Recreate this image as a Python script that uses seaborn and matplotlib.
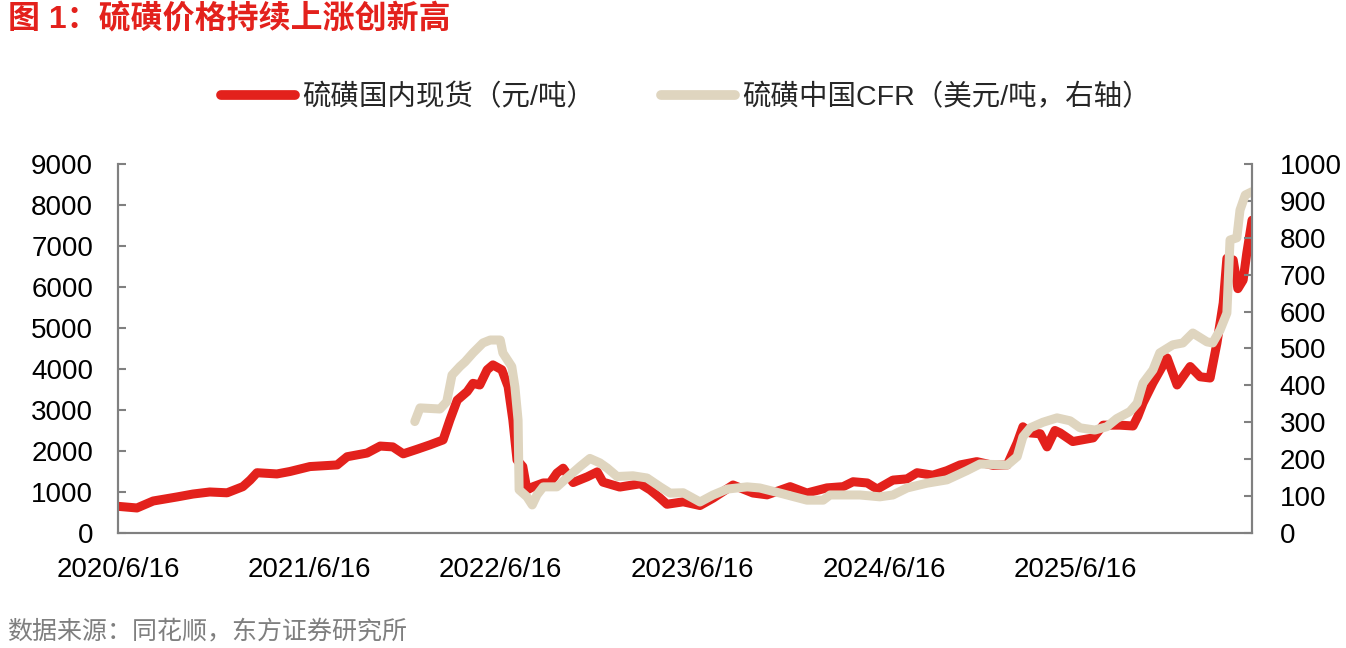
import pandas as pd
import matplotlib
matplotlib.use('Agg')
import matplotlib.pyplot as plt
from matplotlib.lines import Line2D
import seaborn as sns

# domestic spot price (CNY/t), left axis
spot_dates = [
    '2020-06-16', '2020-07-22', '2020-08-22', '2020-10-07', '2020-11-06', '2020-12-08',
    '2021-01-10', '2021-02-09', '2021-02-23', '2021-03-08', '2021-04-15', '2021-05-10',
    '2021-06-17', '2021-08-08', '2021-08-27', '2021-10-04', '2021-10-29', '2021-11-22',
    '2021-12-12', '2022-01-07', '2022-02-01', '2022-02-26', '2022-03-11', '2022-03-25',
    '2022-04-13', '2022-04-24', '2022-05-07', '2022-05-21', '2022-06-01', '2022-06-18',
    '2022-06-30', '2022-07-09', '2022-07-17', '2022-07-28', '2022-08-05', '2022-08-17',
    '2022-09-05', '2022-09-18', '2022-10-01', '2022-10-13', '2022-11-01', '2022-11-28',
    '2022-12-17', '2022-12-28', '2023-01-29', '2023-03-09', '2023-03-28', '2023-04-16',
    '2023-04-29', '2023-05-30', '2023-07-01', '2023-07-26', '2023-09-02', '2023-10-10',
    '2023-11-06', '2023-12-20', '2024-01-21', '2024-02-28', '2024-03-30', '2024-04-18',
    '2024-05-15', '2024-06-03', '2024-07-03', '2024-07-30', '2024-08-18', '2024-09-17',
    '2024-10-14', '2024-11-08', '2024-12-10', '2025-01-10', '2025-02-06', '2025-02-25',
    '2025-03-08', '2025-03-22', '2025-04-10', '2025-04-23', '2025-05-08', '2025-05-18',
    '2025-06-11', '2025-07-20', '2025-08-08', '2025-09-09', '2025-10-04', '2025-10-13',
    '2025-10-23', '2025-11-11', '2025-12-08', '2025-12-27', '2026-01-21', '2026-02-09',
    '2026-02-28', '2026-03-13', '2026-03-25', '2026-04-01', '2026-04-13', '2026-04-22',
    '2026-05-02', '2026-05-09', '2026-05-19',
]
spot_values = [
    650, 610, 780, 880, 950, 1000,
    980, 1130, 1290, 1470, 1440, 1500,
    1620, 1660, 1860, 1950, 2120, 2100,
    1930, 2040, 2150, 2270, 2760, 3240,
    3450, 3650, 3610, 3980, 4100, 3980,
    3570, 2760, 1780, 1620, 1050, 1130,
    1220, 1220, 1460, 1580, 1230, 1370,
    1490, 1240, 1120, 1200, 1050, 850,
    700, 760, 670, 850, 1170, 975,
    930, 1130, 975, 1100, 1130, 1250,
    1220, 1070, 1290, 1320, 1470, 1410,
    1520, 1660, 1740, 1650, 1660, 2200,
    2590, 2440, 2420, 2100, 2500, 2440,
    2230, 2320, 2630, 2630, 2610, 2840,
    3170, 3660, 4270, 3610, 4060, 3810,
    3780, 4630, 5610, 6700, 6660, 5960,
    6170, 6830, 7630,
]

# China CFR (USD/t), right axis
cfr_dates = [
    '2022-01-03', '2022-01-13', '2022-02-20', '2022-03-05', '2022-03-15', '2022-03-30',
    '2022-04-09', '2022-04-24', '2022-05-13', '2022-05-27', '2022-06-15', '2022-06-20',
    '2022-07-07', '2022-07-13', '2022-07-19', '2022-07-21', '2022-08-05', '2022-08-15',
    '2022-08-24', '2022-09-05', '2022-10-01', '2022-10-20', '2022-11-14', '2022-12-03',
    '2022-12-22', '2023-01-05', '2023-01-24', '2023-02-23', '2023-03-22', '2023-04-16',
    '2023-05-05', '2023-05-30', '2023-07-01', '2023-07-26', '2023-08-22', '2023-09-29',
    '2023-10-23', '2023-12-01', '2024-01-21', '2024-02-21', '2024-03-05', '2024-05-01',
    '2024-06-08', '2024-07-03', '2024-07-30', '2024-09-06', '2024-10-14', '2024-11-21',
    '2024-12-16', '2025-02-06', '2025-02-25', '2025-03-08', '2025-03-22', '2025-04-15',
    '2025-05-12', '2025-06-06', '2025-06-25', '2025-07-23', '2025-08-15', '2025-09-03',
    '2025-09-28', '2025-10-12', '2025-10-23', '2025-11-11', '2025-11-24', '2025-12-19',
    '2026-01-07', '2026-01-26', '2026-02-22', '2026-03-05', '2026-03-19', '2026-04-01',
    '2026-04-07', '2026-04-20', '2026-04-26', '2026-05-06', '2026-05-19',
]
cfr_values = [
    302, 339, 336, 356, 428, 451,
    464, 488, 515, 523, 523, 488,
    451, 396, 306, 117, 98, 76,
    103, 125, 125, 149, 180, 202,
    190, 176, 153, 155, 149, 125,
    108, 109, 84, 103, 119, 125,
    122, 108, 89, 89, 103, 103,
    98, 103, 122, 135, 144, 169,
    187, 184, 207, 261, 285, 300,
    312, 304, 285, 279, 288, 310,
    329, 352, 406, 442, 488, 510,
    515, 542, 518, 515, 550, 596,
    794, 800, 875, 916, 925,
]

tick_dates = ['2020-06-16', '2021-06-16', '2022-06-16', '2023-06-16', '2024-06-16', '2025-06-16']
tick_labels = ['2020/6/16', '2021/6/16', '2022/6/16', '2023/6/16', '2024/6/16', '2025/6/16']

spot_label = '硫磺国内现货（元/吨）'
cfr_label = '硫磺中国CFR（美元/吨，右轴）'

RED = '#E3211C'
BEIGE = '#DFD5BF'
SPINE = '#808080'

sns.set_style('white')
plt.rcParams['font.family'] = ['Liberation Sans', 'Noto Sans CJK SC', 'DejaVu Sans']

spot = pd.DataFrame({'date': pd.to_datetime(spot_dates), 'value': spot_values})
cfr = pd.DataFrame({'date': pd.to_datetime(cfr_dates), 'value': cfr_values})

fig = plt.figure(figsize=(13.46, 6.48), dpi=100)
ax = fig.add_axes([0.0877, 0.1775, 0.8425, 0.5694])
ax2 = ax.twinx()

sns.lineplot(data=spot, x='date', y='value', ax=ax, color=RED, linewidth=6.5,
             solid_capstyle='round', solid_joinstyle='round')
sns.lineplot(data=cfr, x='date', y='value', ax=ax2, color=BEIGE, linewidth=6.5,
             solid_capstyle='round', solid_joinstyle='round')

ax.set_xlim(pd.Timestamp('2020-06-16'), pd.Timestamp('2026-05-19'))
ax.set_ylim(0, 9000)
ax2.set_ylim(0, 1000)
ax.set_yticks(range(0, 9001, 1000))
ax2.set_yticks(range(0, 1001, 100))
ax.set_xticks(pd.to_datetime(tick_dates))
ax.set_xticklabels(tick_labels)

for a in (ax, ax2):
    a.set_xlabel('')
    a.set_ylabel('')
    a.spines['top'].set_visible(False)
    for s in ('left', 'right', 'bottom'):
        a.spines[s].set_color(SPINE)
        a.spines[s].set_linewidth(1.5)

ax.tick_params(axis='y', direction='in', length=6, width=1.5, color=SPINE,
               labelsize=20, pad=18, labelcolor='black')
ax2.tick_params(axis='y', direction='in', length=6, width=1.5, color=SPINE,
                labelsize=20, pad=20, labelcolor='black')
ax.tick_params(axis='x', direction='in', length=5, width=1.5, color='#404040',
               labelsize=20, pad=17, labelcolor='black')

handles = [
    Line2D([0], [0], color=RED, linewidth=7, solid_capstyle='round'),
    Line2D([0], [0], color=BEIGE, linewidth=7, solid_capstyle='round'),
]
fig.legend(handles, [spot_label, cfr_label], loc='center',
           bbox_to_anchor=(0.5097, 0.850), ncol=2, frameon=False, fontsize=20.5,
           handlelength=2.6, handletextpad=0.25, columnspacing=2.3)

fig.text(0.006, 0.971, '图 1：硫磺价格持续上涨创新高', color=RED, fontsize=23,
         fontweight='bold', ha='left', va='center')
fig.text(0.005, 0.026, '数据来源：同花顺，东方证券研究所', color='#7F7F7F', fontsize=18,
         ha='left', va='center')

fig.savefig('out.png', dpi=100)
plt.close(fig)
